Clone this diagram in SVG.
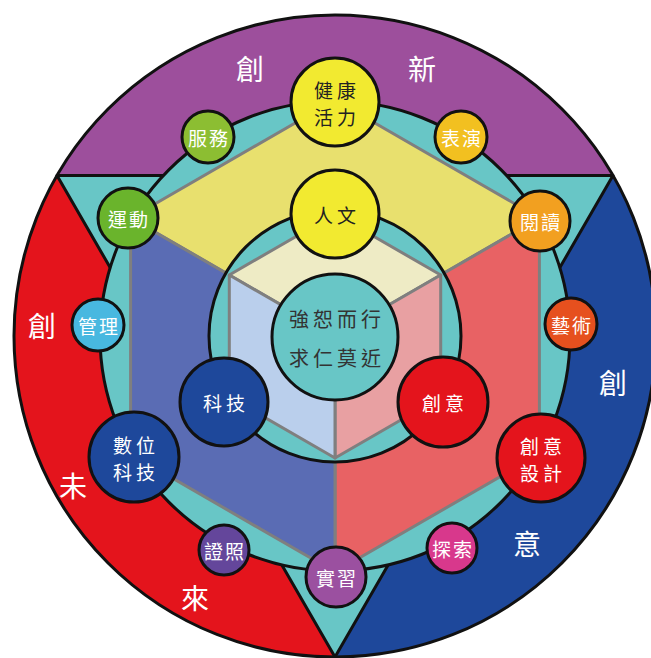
<svg xmlns="http://www.w3.org/2000/svg" width="651" height="658" viewBox="0 0 651 658">
<style>
.blk{stroke:#111;stroke-width:3}
.hex{stroke:#7f7f7f;stroke-width:3;stroke-linejoin:round}
.node{stroke:#111;stroke-width:3}
text{font-family:"Noto Sans CJK TC","Noto Sans CJK SC",sans-serif;text-anchor:middle;dominant-baseline:central}
.big{font-size:28px;fill:#fff}
.w{fill:#fff;font-size:19px;letter-spacing:2px}
.wl{fill:#fff;font-size:19px;letter-spacing:4px}
.d{fill:#222;font-size:19px;letter-spacing:4px}
.c{fill:#333;font-size:20px;letter-spacing:4px}
</style>
<rect width="651" height="658" fill="#fff"/>
<g id="background">
<path d="M57,175.5 A321,321 0 0 1 613,175.5 Z" fill="#9d4f9c"/>
<path d="M613,175.5 A321,321 0 0 1 335,657 Z" fill="#1e489b"/>
<path d="M335,657 A321,321 0 0 1 57,175.5 Z" fill="#e4141c"/>
<polygon points="57,175.5 613,175.5 335,657" fill="#68c6c6" class="blk" stroke-linejoin="round"/>
<circle cx="335" cy="336" r="321" fill="none" class="blk"/>
<circle cx="335" cy="336" r="235" fill="#68c6c6" class="blk"/>
<polygon class="hex" fill="#e8e06e" points="335,100 539.4,218 335,336 130.6,218"/>
<polygon class="hex" fill="#e86264" points="539.4,218 539.4,454 335,572 335,336"/>
<polygon class="hex" fill="#5a6cb4" points="130.6,218 335,336 335,572 130.6,454"/>
<circle cx="335" cy="336" r="126" fill="#68c6c6" class="blk"/>
<polygon class="hex" fill="#eeebc5" points="335,214 440.7,275 335,336 229.3,275"/>
<polygon class="hex" fill="#e8a0a2" points="440.7,275 440.7,397 335,458 335,336"/>
<polygon class="hex" fill="#bacfec" points="229.3,275 335,336 335,458 229.3,397"/>
<text class="big" x="250" y="68">創</text>
<text class="big" x="422" y="68">新</text>
<text class="big" x="42" y="325">創</text>
<text class="big" x="73" y="485">未</text>
<text class="big" x="195" y="597">來</text>
<text class="big" x="613" y="382">創</text>
<text class="big" x="527" y="543">意</text>
</g>
<g id="connectors"></g>
<g id="center">
<circle cx="335" cy="337" r="63" fill="#68c6c6" class="node"/>
<text class="c" x="337" y="318">強恕而行</text>
<text class="c" x="337" y="357">求仁莫近</text>
</g>
<g id="n-health">
<circle cx="335" cy="102" r="44" fill="#f2ea30" class="node"/>
<text class="d" x="337" y="89">健康</text>
<text class="d" x="337" y="116">活力</text>
</g>
<g id="n-humanities">
<circle cx="335" cy="214" r="44" fill="#f2ea30" class="node"/>
<text class="d" x="337" y="214">人文</text>
</g>
<g id="n-service">
<circle cx="208" cy="137" r="26" fill="#8cbe32" class="node"/>
<text class="w" x="209" y="137">服務</text>
</g>
<g id="n-perform">
<circle cx="461" cy="137" r="26" fill="#f2c020" class="node"/>
<text class="w" x="462" y="137">表演</text>
</g>
<g id="n-sport">
<circle cx="128" cy="218" r="30" fill="#6ab42c" class="node"/>
<text class="w" x="129" y="218">運動</text>
</g>
<g id="n-read">
<circle cx="540" cy="221" r="30" fill="#f2a020" class="node"/>
<text class="w" x="541" y="221">閱讀</text>
</g>
<g id="n-manage">
<circle cx="98" cy="325" r="26" fill="#48b8e0" class="node"/>
<text class="w" x="99" y="325">管理</text>
</g>
<g id="n-art">
<circle cx="571" cy="324" r="26" fill="#e6501e" class="node"/>
<text class="w" x="572" y="324">藝術</text>
</g>
<g id="n-tech">
<circle cx="224" cy="402" r="44" fill="#1e489b" class="node"/>
<text class="wl" x="226" y="402">科技</text>
</g>
<g id="n-creative">
<circle cx="443" cy="402" r="45" fill="#e4141c" class="node"/>
<text class="wl" x="445" y="402">創意</text>
</g>
<g id="n-digital">
<circle cx="134" cy="457" r="45" fill="#1e489b" class="node"/>
<text class="wl" x="136" y="444">數位</text>
<text class="wl" x="136" y="471">科技</text>
</g>
<g id="n-design">
<circle cx="541" cy="458" r="44" fill="#e4141c" class="node"/>
<text class="wl" x="543" y="445">創意</text>
<text class="wl" x="543" y="472">設計</text>
</g>
<g id="n-cert">
<circle cx="224" cy="550" r="25" fill="#64469b" class="node"/>
<text class="w" x="225" y="550">證照</text>
</g>
<g id="n-explore">
<circle cx="452" cy="548" r="25" fill="#d8388c" class="node"/>
<text class="w" x="453" y="548">探索</text>
</g>
<g id="n-intern">
<circle cx="336" cy="577" r="30" fill="#9b50a0" class="node"/>
<text class="w" x="337" y="577">實習</text>
</g>
</svg>
